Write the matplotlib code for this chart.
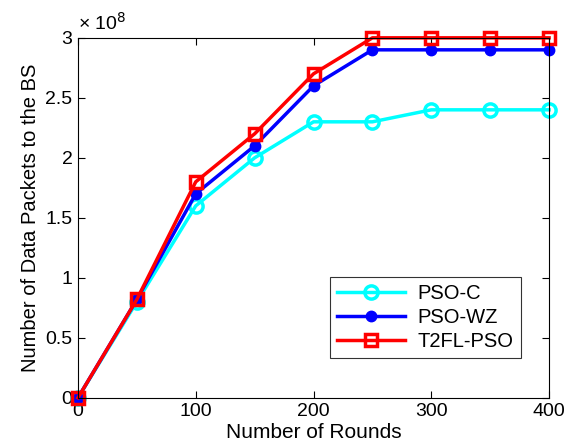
import matplotlib
matplotlib.use("Agg")
import matplotlib.pyplot as plt
from matplotlib.ticker import FuncFormatter

plt.rcParams["font.family"] = ["Liberation Sans", "DejaVu Sans"]

rounds = [0, 50, 100, 150, 200, 250, 300, 350, 400]
# packets in units of 1e8
pso_c = [0, 0.80, 1.60, 2.00, 2.30, 2.30, 2.40, 2.40, 2.40]
pso_wz = [0, 0.82, 1.70, 2.10, 2.60, 2.90, 2.90, 2.90, 2.90]
t2fl_pso = [0, 0.82, 1.80, 2.20, 2.70, 3.00, 3.00, 3.00, 3.00]

fig = plt.figure(figsize=(5.69, 4.45), dpi=100)
ax = fig.add_axes([0.137, 0.106, 0.828, 0.809])

ax.plot(rounds, pso_c, color="cyan", linewidth=2.5, marker="o", markersize=9.5,
        markerfacecolor="none", markeredgewidth=2.5, label="PSO-C", clip_on=False)
ax.plot(rounds, pso_wz, color="blue", linewidth=2.5, marker="o", markersize=7.5,
        markerfacecolor="blue", label="PSO-WZ", clip_on=False)
ax.plot(rounds, t2fl_pso, color="red", linewidth=2.5, marker="s", markersize=8,
        markerfacecolor="none", markeredgewidth=2.5, label="T2FL-PSO", clip_on=False)

ax.set_xlim(0, 400)
ax.set_ylim(0, 3)
ax.set_xticks(range(0, 401, 100))
ax.set_yticks([0, 0.5, 1, 1.5, 2, 2.5, 3])
ax.yaxis.set_major_formatter(FuncFormatter(lambda v, p: f"{v:g}"))
ax.tick_params(direction="in", labelsize=14, top=True, right=True, length=5, pad=4)
for s in ax.spines.values():
    s.set_linewidth(0.8)

ax.set_xlabel("Number of Rounds", fontsize=15, labelpad=2)
ax.set_ylabel("Number of Data Packets to the BS", fontsize=14.5, labelpad=4)
ax.text(0.0, 1.012, "× 10$^{8}$", transform=ax.transAxes, fontsize=14,
        ha="left", va="bottom")

leg = ax.legend(loc="center", bbox_to_anchor=(0.737, 0.222), fontsize=14.5,
                fancybox=False, edgecolor="black", handlelength=3.4,
                borderpad=0.35, labelspacing=0.25, handletextpad=0.6)
leg.get_frame().set_linewidth(0.8)

fig.savefig("out.png", dpi=100)
